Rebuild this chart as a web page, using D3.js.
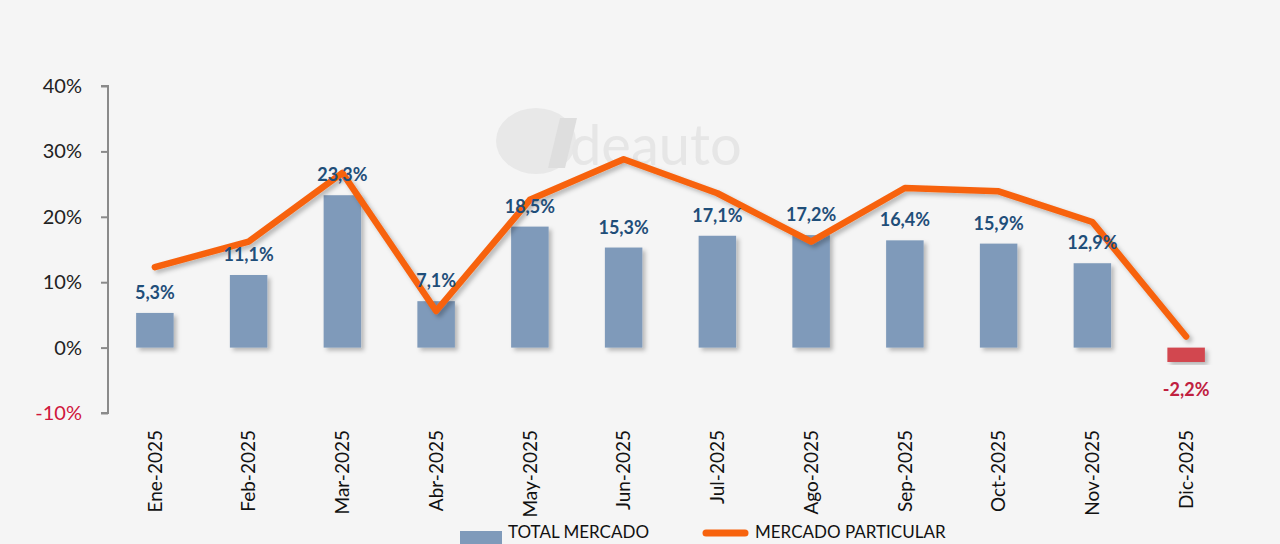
<!DOCTYPE html>
<html>
<head>
<meta charset="utf-8">
<script src="https://cdn.jsdelivr.net/npm/d3@7"></script>
<style>
  html, body { margin: 0; padding: 0; background: #f5f5f5; }
  svg { display: block; }
</style>
</head>
<body>
<svg id="chart" width="1280" height="544"></svg>
<script>
const categories = ["Ene-2025","Feb-2025","Mar-2025","Abr-2025","May-2025","Jun-2025","Jul-2025","Ago-2025","Sep-2025","Oct-2025","Nov-2025","Dic-2025"];
const totalMercado = [5.3, 11.1, 23.3, 7.1, 18.5, 15.3, 17.1, 17.2, 16.4, 15.9, 12.9, -2.2];
const mercadoParticular = [12.3, 16.2, 26.7, 5.6, 22.6, 28.8, 23.6, 16.2, 24.4, 23.9, 19.2, 1.7];
const yTicks = [-10, 0, 10, 20, 30, 40];
const legendLabels = ["TOTAL MERCADO", "MERCADO PARTICULAR"];

const svg = d3.select("#chart");
const W = 1280, H = 544;
svg.append("rect").attr("width", W).attr("height", H).attr("fill", "#f5f5f5");

const defs = svg.append("defs");
const sh = defs.append("filter").attr("id", "shadow").attr("x", "-20%").attr("y", "-20%").attr("width", "140%").attr("height", "140%");
sh.append("feDropShadow").attr("dx", 3).attr("dy", 3).attr("stdDeviation", 2).attr("flood-color", "#000").attr("flood-opacity", 0.25);

// watermark (logo shape)
const wm = svg.append("g");
wm.append("ellipse").attr("cx", 536).attr("cy", 141).attr("rx", 40).attr("ry", 33).attr("fill", "#e8e8e8");
wm.append("path").attr("d", "M560,118 L577,118 L565,168 L548,168 Z").attr("fill", "#dedede");
wm.append("text").attr("x", 570).attr("y", 165).attr("font-family", "Lato, sans-serif").attr("font-size", 56)
  .attr("fill", "#e6e6e6").text("deauto");

const x = d3.scaleBand().domain(categories).range([108, 1233]).paddingInner(0.6).paddingOuter(0.3);
const y = d3.scaleLinear().domain([-10, 40]).range([413, 86]);
const cx = d => x(d) + x.bandwidth() / 2;

// y axis
const yAxis = d3.axisLeft(y).tickValues(yTicks).tickSize(7).tickPadding(19).tickFormat(d => d + "%");
const ya = svg.append("g").attr("transform", "translate(108,0)").call(yAxis);
ya.select(".domain").attr("stroke", "#8a8a8a").attr("stroke-width", 2).attr("d", `M-7,${y(40)}H0V${y(-10)}H-7`);
ya.selectAll(".tick line").attr("stroke", "#8a8a8a").attr("stroke-width", 2);
ya.selectAll(".tick text").attr("font-family", "Lato, sans-serif").attr("font-size", 20)
  .attr("fill", d => d < 0 ? "#d0163c" : "#222");

// x axis labels
const xa = svg.append("g").attr("transform", "translate(0,426)")
  .call(d3.axisBottom(x).tickSize(0).tickPadding(0));
xa.select(".domain").remove();
xa.selectAll(".tick text")
  .attr("font-family", "Lato, sans-serif").attr("font-size", 19).attr("fill", "#111")
  .attr("text-anchor", "end").attr("transform", "rotate(-90)").attr("dx", "-4").attr("dy", "0.35em").attr("x", 0).attr("y", 0);

// bars
svg.append("g").selectAll("rect").data(categories).join("rect")
  .attr("x", d => x(d))
  .attr("width", x.bandwidth())
  .attr("y", (d, i) => y(Math.max(0, totalMercado[i])))
  .attr("height", (d, i) => Math.abs(y(totalMercado[i]) - y(0)))
  .attr("fill", (d, i) => totalMercado[i] < 0 ? "#d2474f" : "#7f9aba")
  .attr("filter", "url(#shadow)");

// line
const line = d3.line().x(d => cx(d[0])).y(d => y(d[1]));
svg.append("path").datum(categories.map((c, i) => [c, mercadoParticular[i]]))
  .attr("d", line).attr("fill", "none").attr("stroke", "#f7620d").attr("stroke-width", 6.5)
  .attr("stroke-linejoin", "round").attr("stroke-linecap", "round").attr("filter", "url(#shadow)");

// labels
svg.append("g").selectAll("text").data(categories).join("text")
  .attr("x", d => cx(d))
  .attr("y", (d, i) => totalMercado[i] >= 0 ? y(totalMercado[i]) - 14 : y(totalMercado[i]) + 34)
  .attr("text-anchor", "middle").attr("font-family", "Lato, sans-serif").attr("font-weight", "bold").attr("font-size", 18)
  .attr("fill", (d, i) => totalMercado[i] < 0 ? "#c0203f" : "#1f4e79")
  .text((d, i) => totalMercado[i].toFixed(1).replace(".", ",") + "%");

// legend
const lg = svg.append("g");
lg.append("rect").attr("x", 460).attr("y", 531).attr("width", 42).attr("height", 13).attr("fill", "#7f9aba");
lg.append("text").attr("x", 508).attr("y", 538).attr("font-family", "Lato, sans-serif").attr("font-size", 17).attr("fill", "#111").text(legendLabels[0]);
lg.append("line").attr("x1", 706).attr("x2", 745).attr("y1", 533).attr("y2", 533).attr("stroke", "#f7620d").attr("stroke-width", 7).attr("stroke-linecap", "round");
lg.append("text").attr("x", 755).attr("y", 538).attr("font-family", "Lato, sans-serif").attr("font-size", 17).attr("fill", "#111").text(legendLabels[1]);
</script>
</body>
</html>
